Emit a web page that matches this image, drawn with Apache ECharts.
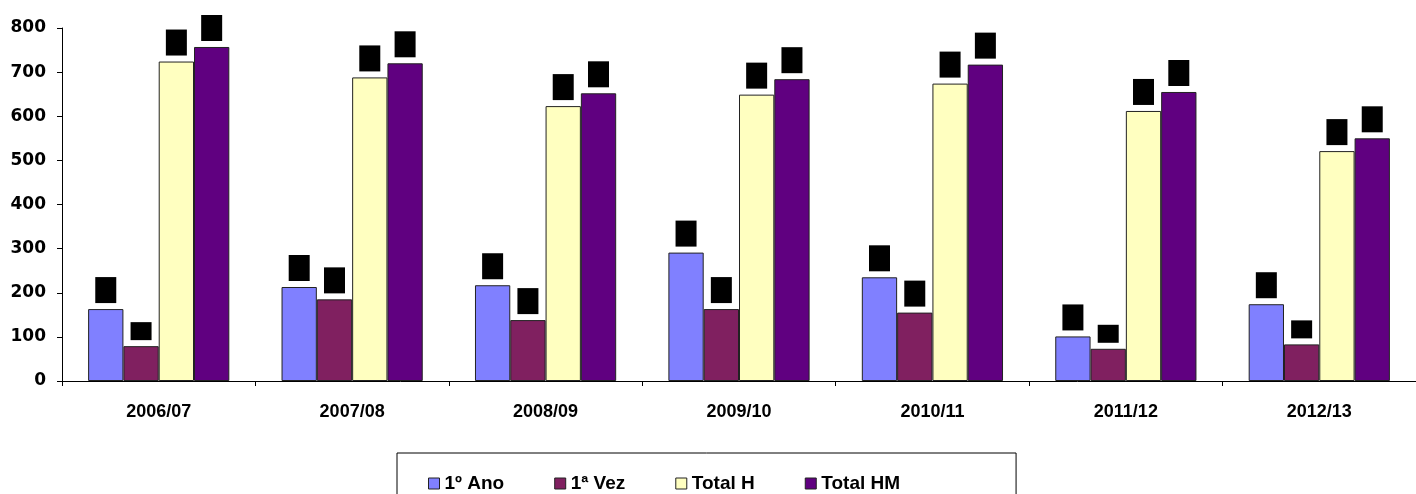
<!DOCTYPE html>
<html>
<head>
<meta charset="utf-8">
<script src="https://cdn.jsdelivr.net/npm/echarts@6/dist/echarts.min.js"></script>
<style>
  html, body { margin: 0; padding: 0; background: #fff; }
  #chart { width: 1416px; height: 494px; }
</style>
</head>
<body>
<div id="chart"></div>
<script>
// anos lectivos
var anos = ['2006/07', '2007/08', '2008/09', '2009/10', '2010/11', '2011/12', '2012/13'];

var primeiroAno = [163, 213, 217, 291, 235, 101, 174];
var primeiraVez = [79, 185, 138, 163, 155, 73, 83];
var totalH = [724, 688, 623, 649, 674, 612, 521];
var totalHM = [757, 720, 652, 684, 717, 655, 550];

var nomes = ['1º Ano', '1ª Vez', 'Total H', 'Total HM'];
var cores = ['#8080FF', '#802060', '#FFFFC0', '#600080'];

var fonte = '"Liberation Sans", Arial, sans-serif';

// etiquetas em caixa preta (como no original)
function etiqueta() {
  return {
    show: true,
    position: 'top',
    distance: 6,
    formatter: function (p) {
      return p.value < 100 ? '{c|' + p.value + '}' : '{g|' + p.value + '}';
    },
    rich: {
      c: { backgroundColor: '#000', color: '#000', width: 21, height: 18, align: 'center', fontSize: 12, fontFamily: fonte },
      g: { backgroundColor: '#000', color: '#000', width: 21, height: 26, align: 'center', fontSize: 12, fontFamily: fonte }
    }
  };
}

function serie(i, dados) {
  return {
    name: nomes[i],
    type: 'bar',
    data: dados,
    barGap: '0%',
    barCategoryGap: '27%',
    itemStyle: { color: cores[i], borderColor: '#222', borderWidth: 1 },
    label: etiqueta()
  };
}

var myChart = echarts.init(document.getElementById('chart'));
var option = {
  animation: false,
  grid: { left: 62, right: 0, top: 28, bottom: 113 },
  legend: {
    top: 453,
    left: 397,
    padding: [21, 116, 20, 31],
    borderColor: '#000',
    borderWidth: 1,
    itemWidth: 11,
    itemHeight: 11,
    itemGap: 50,
    icon: 'rect',
    itemStyle: { borderColor: '#222', borderWidth: 1 },
    textStyle: { fontFamily: fonte, fontWeight: 'bold', fontSize: 19, color: '#000' },
    data: nomes
  },
  xAxis: {
    type: 'category',
    data: anos,
    axisLine: { lineStyle: { color: '#000', width: 1 } },
    axisTick: { show: true, length: 5, lineStyle: { color: '#000' } },
    axisLabel: { fontFamily: fonte, fontWeight: 'bold', fontSize: 18, color: '#000', margin: 22 }
  },
  yAxis: {
    type: 'value',
    min: 0,
    max: 800,
    interval: 100,
    splitLine: { show: false },
    axisLine: { show: true, lineStyle: { color: '#000', width: 1 } },
    axisTick: { show: true, length: 5, lineStyle: { color: '#000' } },
    axisLabel: { fontFamily: '"DejaVu Sans", sans-serif', fontWeight: 'bold', fontSize: 17, color: '#000', margin: 16 }
  },
  series: [
    serie(0, primeiroAno),
    serie(1, primeiraVez),
    serie(2, totalH),
    serie(3, totalHM)
  ]
};
myChart.setOption(option);
window.addEventListener('resize', function () { myChart.resize(); });
</script>
</body>
</html>
